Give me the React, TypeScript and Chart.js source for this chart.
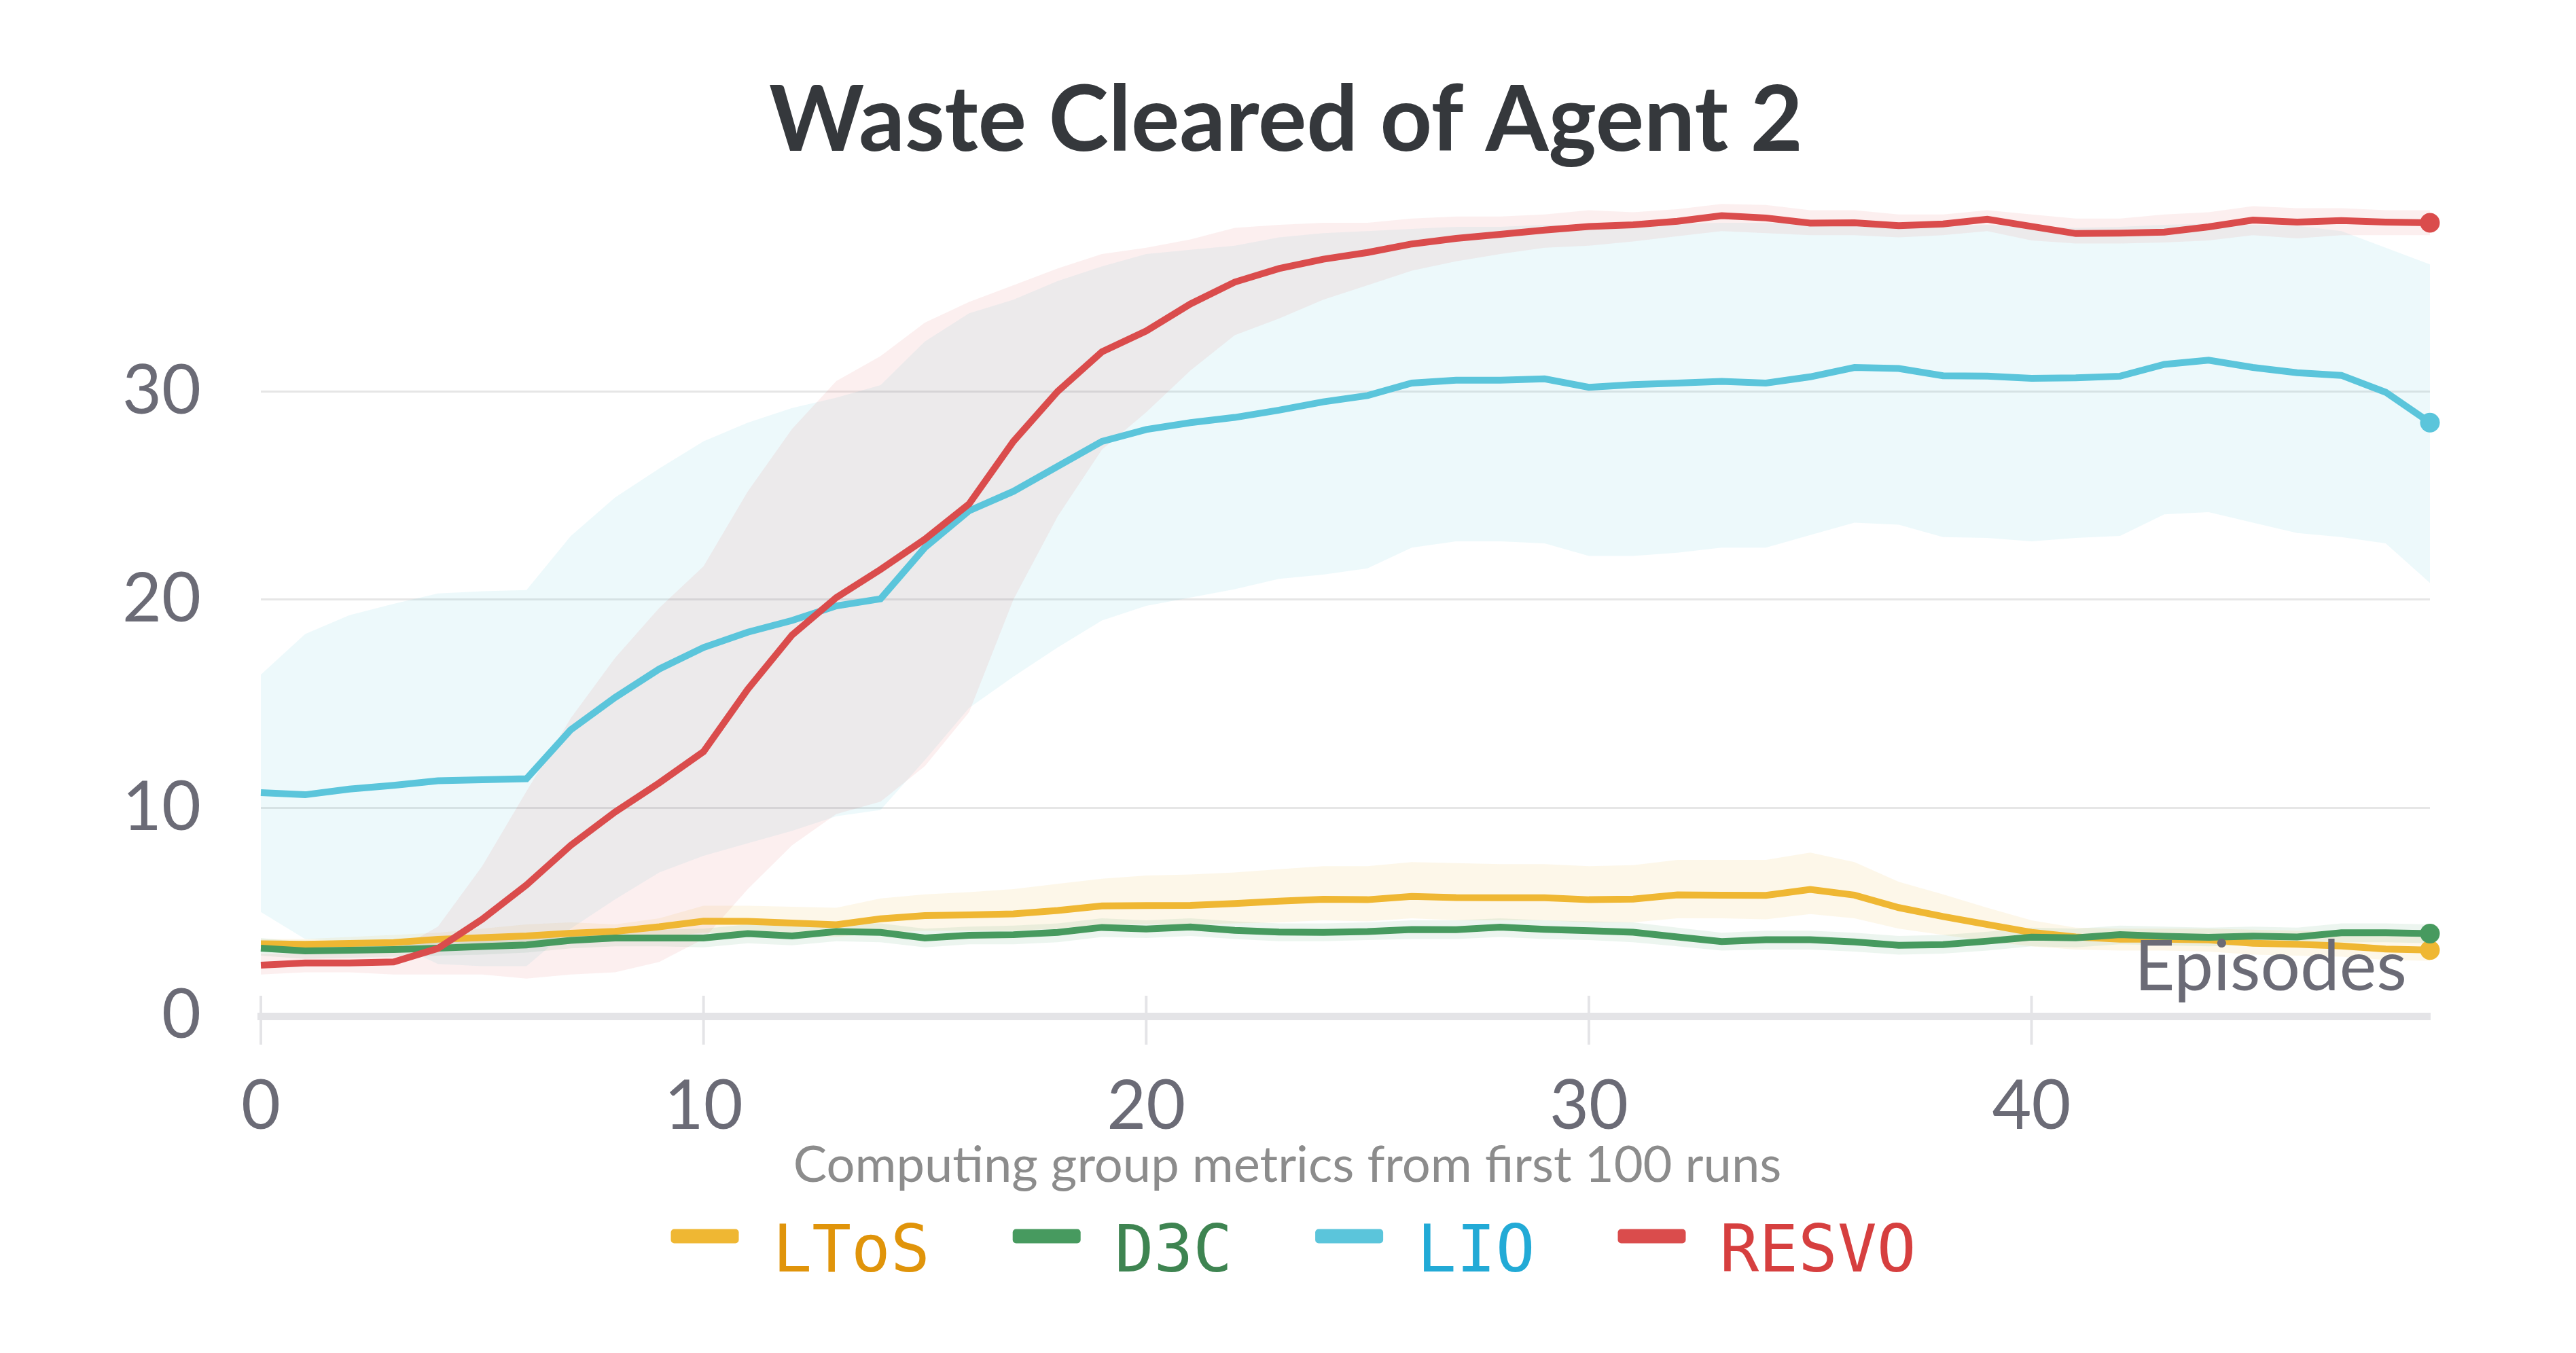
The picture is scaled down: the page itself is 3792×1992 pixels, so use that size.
import { useEffect, useRef } from "react";
import { Chart, registerables } from "chart.js";

Chart.register(...registerables);

// episodes on the x axis
const episodes = [
  0, 1, 2, 3, 4, 5, 6, 7, 8, 9, 10, 11, 12, 13, 14, 15, 16, 17, 18, 19, 20, 21, 22, 23, 24,
  25, 26, 27, 28, 29, 30, 31, 32, 33, 34, 35, 36, 37, 38, 39, 40, 41, 42, 43, 44, 45, 46, 47, 48, 49,
];
const xTicks = [0, 10, 20, 30, 40];
const yTicks = [0, 10, 20, 30];

// LToS
const ltosMean = [
  3.47, 3.45, 3.49, 3.53, 3.69, 3.77, 3.85, 3.98, 4.07, 4.29,
  4.56, 4.55, 4.47, 4.39, 4.67, 4.83, 4.86, 4.91, 5.07, 5.29,
  5.31, 5.32, 5.41, 5.52, 5.61, 5.59, 5.75, 5.69, 5.68, 5.68,
  5.59, 5.62, 5.82, 5.81, 5.8, 6.08, 5.81, 5.21, 4.78, 4.4,
  4.02, 3.8, 3.69, 3.69, 3.66, 3.5, 3.45, 3.37, 3.22, 3.17,
];
const ltosUpper = [
  3.7, 3.7, 3.8, 3.9, 4.0, 4.2, 4.4, 4.5, 4.4, 4.7,
  5.3, 5.3, 5.25, 5.2, 5.65, 5.85, 5.95, 6.1, 6.35, 6.6,
  6.75, 6.8, 6.9, 7.05, 7.2, 7.2, 7.4, 7.35, 7.3, 7.3,
  7.2, 7.25, 7.5, 7.5, 7.5, 7.85, 7.4, 6.45, 5.85, 5.2,
  4.6, 4.25, 4.2, 4.2, 4.2, 4.15, 4.1, 4.05, 4.0, 4.0,
];
const ltosLower = [
  3.25, 3.2, 3.2, 3.2, 3.35, 3.4, 3.45, 3.55, 3.6, 3.8,
  4.0, 4.0, 3.9, 3.8, 4.0, 4.1, 4.1, 4.1, 4.2, 4.4,
  4.4, 4.4, 4.45, 4.5, 4.6, 4.55, 4.7, 4.6, 4.6, 4.6,
  4.5, 4.5, 4.7, 4.7, 4.65, 4.9, 4.7, 4.2, 3.9, 3.6,
  3.35, 3.2, 3.15, 3.15, 3.1, 2.95, 2.9, 2.85, 2.7, 2.65,
];

// D3C
const d3cMean = [
  3.26, 3.13, 3.16, 3.2, 3.26, 3.34, 3.42, 3.64, 3.75, 3.75,
  3.75, 3.96, 3.85, 4.06, 4.02, 3.75, 3.88, 3.91, 4.02, 4.26,
  4.18, 4.28, 4.12, 4.04, 4.02, 4.06, 4.16, 4.15, 4.27, 4.17,
  4.1, 4.03, 3.8, 3.58, 3.67, 3.67, 3.56, 3.4, 3.43, 3.6,
  3.79, 3.76, 3.91, 3.83, 3.78, 3.84, 3.8, 4.0, 4.0, 3.96,
];
const d3cUpper = [
  3.75, 3.55, 3.5, 3.55, 3.6, 3.7, 3.8, 4.0, 4.15, 4.15,
  4.2, 4.4, 4.3, 4.5, 4.45, 4.2, 4.3, 4.35, 4.45, 4.7,
  4.6, 4.7, 4.55, 4.45, 4.45, 4.5, 4.6, 4.6, 4.7, 4.6,
  4.55, 4.5, 4.25, 4.0, 4.1, 4.1, 4.0, 3.85, 3.9, 4.05,
  4.25, 4.2, 4.35, 4.3, 4.25, 4.3, 4.25, 4.45, 4.45, 4.4,
];
const d3cLower = [
  2.9, 2.75, 2.8, 2.85, 2.9, 2.95, 3.05, 3.25, 3.35, 3.35,
  3.3, 3.5, 3.4, 3.6, 3.55, 3.3, 3.45, 3.45, 3.55, 3.8,
  3.75, 3.85, 3.7, 3.6, 3.6, 3.65, 3.7, 3.7, 3.8, 3.7,
  3.65, 3.55, 3.35, 3.15, 3.2, 3.2, 3.1, 2.95, 3.0, 3.15,
  3.35, 3.3, 3.45, 3.4, 3.35, 3.4, 3.35, 3.55, 3.55, 3.5,
];

// LIO
const lioMean = [
  10.73, 10.63, 10.9, 11.08, 11.3, 11.35, 11.4, 13.75, 15.3, 16.67,
  17.7, 18.44, 19.0, 19.7, 20.04, 22.5, 24.27, 25.2, 26.4, 27.6,
  28.17, 28.5, 28.75, 29.1, 29.5, 29.8, 30.4, 30.54, 30.54, 30.6,
  30.2, 30.33, 30.4, 30.48, 30.4, 30.7, 31.15, 31.1, 30.75, 30.73,
  30.63, 30.65, 30.73, 31.3, 31.5, 31.15, 30.9, 30.77, 29.96, 28.5,
];
const lioUpper = [
  16.4, 18.35, 19.25, 19.8, 20.3, 20.4, 20.46, 23.05, 24.9, 26.3,
  27.6, 28.5, 29.2, 29.7, 30.3, 32.4, 33.75, 34.4, 35.3, 36.0,
  36.6, 36.8, 37.0, 37.4, 37.6, 37.7, 37.8, 37.9, 37.9, 38.0,
  38.0, 38.0, 38.05, 38.1, 38.1, 38.05, 38.0, 37.95, 37.95, 38.0,
  37.9, 37.85, 37.9, 38.0, 38.05, 38.0, 37.95, 37.7, 36.9, 36.1,
];
const lioLower = [
  5.0, 3.7, 3.6, 3.5, 2.5, 2.4, 2.4, 4.2, 5.6, 6.9,
  7.7, 8.3, 8.9, 9.6, 9.9, 12.3, 14.8, 16.3, 17.7, 19.0,
  19.7, 20.1, 20.5, 21.0, 21.2, 21.5, 22.5, 22.8, 22.8, 22.7,
  22.1, 22.1, 22.25, 22.5, 22.5, 23.1, 23.7, 23.6, 23.0, 22.96,
  22.8, 22.96, 23.06, 24.1, 24.2, 23.7, 23.2, 23.0, 22.7, 20.8,
];

// RESVO
const resvoMean = [
  2.45, 2.55, 2.55, 2.6, 3.25, 4.65, 6.3, 8.2, 9.8, 11.2,
  12.7, 15.7, 18.3, 20.1, 21.45, 22.9, 24.6, 27.6, 30.0, 31.9,
  32.9, 34.2, 35.25, 35.9, 36.35, 36.67, 37.08, 37.35, 37.54, 37.75,
  37.92, 38.0, 38.17, 38.44, 38.33, 38.08, 38.1, 37.96, 38.04, 38.27,
  37.92, 37.58, 37.6, 37.65, 37.9, 38.23, 38.13, 38.2, 38.13, 38.1,
];
const resvoUpper = [
  3.0, 3.0, 3.0, 3.1, 4.3, 7.2, 10.8, 14.3, 17.2, 19.6,
  21.6, 25.2, 28.2, 30.5, 31.7, 33.3, 34.3, 35.1, 35.9, 36.6,
  36.9, 37.3, 37.85, 38.0, 38.1, 38.1, 38.3, 38.4, 38.4, 38.5,
  38.7, 38.6, 38.75, 39.0, 38.95, 38.7, 38.7, 38.5, 38.5, 38.7,
  38.5, 38.3, 38.3, 38.5, 38.6, 38.9, 38.8, 38.8, 38.7, 38.7,
];
const resvoLower = [
  2.0, 2.1, 2.1, 2.0, 2.0, 2.0, 1.8, 2.0, 2.1, 2.6,
  3.7, 6.1, 8.2, 9.7, 10.3, 12.0, 14.6, 20.0, 24.0, 27.2,
  29.0, 31.0, 32.7, 33.5, 34.4, 35.1, 35.8, 36.25, 36.6, 36.9,
  37.0, 37.2, 37.45, 37.7, 37.6, 37.5, 37.5, 37.4, 37.5, 37.7,
  37.25, 37.1, 37.1, 37.15, 37.25, 37.5, 37.35, 37.5, 37.5, 37.5,
];

const W = 3776;
const H = 1976;
const SANS = "Lato, 'Noto Sans', sans-serif";
const MONO = "'DejaVu Sans Mono', monospace";
const TICK_COLOR = "#6b6b76";

const ltos = { name: "LToS", line: "#efb733", text: "#e0940a", band: "rgba(239,183,51,0.11)", mean: ltosMean, upper: ltosUpper, lower: ltosLower };
const d3c = { name: "D3C", line: "#479a5f", text: "#3e8451", band: "rgba(71,154,95,0.1)", mean: d3cMean, upper: d3cUpper, lower: d3cLower };
const lio = { name: "LIO", line: "#5bc5db", text: "#22aad6", band: "rgba(91,197,219,0.11)", mean: lioMean, upper: lioUpper, lower: lioLower };
const resvo = { name: "RESVO", line: "#da4c4c", text: "#d63f3f", band: "rgba(218,76,76,0.09)", mean: resvoMean, upper: resvoUpper, lower: resvoLower };

const legendOrder = [ltos, d3c, lio, resvo];
// first one is drawn on top
const drawOrder = [resvo, lio, d3c, ltos];

const pts = (arr: number[]) => arr.map((y, i) => ({ x: episodes[i], y }));

const fitFont = (ctx, text, weight, family, target) => {
  ctx.font = `${weight} 100px ${family}`;
  const w = ctx.measureText(text).width;
  return (100 * target) / w;
};

const decor = {
  id: "decor",
  afterDraw(chart) {
    const { ctx, chartArea, scales } = chart;
    const x = scales.x;
    ctx.save();

    // tick marks crossing the axis line
    ctx.strokeStyle = "#e4e4e7";
    ctx.lineWidth = 4;
    xTicks.forEach((v) => {
      const px = x.getPixelForValue(v);
      ctx.beginPath();
      ctx.moveTo(px, chartArea.bottom - 30);
      ctx.lineTo(px, chartArea.bottom + 42);
      ctx.stroke();
    });

    // title
    const title = "Waste Cleared of Agent 2";
    let size = fitFont(ctx, title, "bold", SANS, 1522);
    ctx.font = `bold ${size}px ${SANS}`;
    ctx.fillStyle = "#35383c";
    ctx.textAlign = "center";
    ctx.textBaseline = "alphabetic";
    ctx.fillText(title, 1885, 214);

    // axis title inside the plot
    const ep = "Episodes";
    size = fitFont(ctx, ep, "normal", SANS, 401);
    ctx.font = `normal ${size}px ${SANS}`;
    ctx.fillStyle = TICK_COLOR;
    ctx.textAlign = "right";
    ctx.fillText(ep, chartArea.right - 34, chartArea.bottom - 38);

    // subtitle
    const sub = "Computing group metrics from first 100 runs";
    size = fitFont(ctx, sub, "normal", SANS, 1455);
    ctx.font = `normal ${size}px ${SANS}`;
    ctx.fillStyle = "#8c8c8c";
    ctx.textAlign = "center";
    ctx.fillText(sub, 1887, 1732);

    // legend
    ctx.font = `96px ${MONO}`;
    ctx.textAlign = "left";
    const boxW = 100;
    const boxH = 21;
    const gap = 50;
    const itemGap = 122;
    const widths = legendOrder.map((s) => ctx.measureText(s.name).width);
    const total = widths.reduce((a, w) => a + boxW + gap + w, 0) + itemGap * (legendOrder.length - 1);
    let lx = 1896 - total / 2;
    legendOrder.forEach((s, i) => {
      ctx.fillStyle = s.line;
      ctx.beginPath();
      ctx.roundRect(lx, 1812 - boxH / 2, boxW, boxH, 5);
      ctx.fill();
      ctx.fillStyle = s.text;
      ctx.fillText(s.name, lx + boxW + gap, 1864);
      lx += boxW + gap + widths[i] + itemGap;
    });

    ctx.restore();
  },
};

const lastIndex = episodes.length - 1;

const App = () => {
  const canvasRef = useRef(null);
  const chartRef = useRef(null);

  useEffect(() => {
    if (chartRef.current) {
      chartRef.current.destroy();
    }

    const lineSets = drawOrder.map((s, k) => ({
      label: s.name,
      data: pts(s.mean),
      borderColor: s.line,
      backgroundColor: s.line,
      borderWidth: 10,
      fill: false,
      tension: 0,
      clip: false,
      pointRadius: (c) => (c.dataIndex === lastIndex ? 14.5 : 0),
      pointBorderWidth: 0,
      pointBackgroundColor: s.line,
      order: k,
    }));

    const bandSets = [];
    drawOrder.forEach((s, k) => {
      bandSets.push({
        label: s.name + " max",
        data: pts(s.upper),
        borderWidth: 0,
        borderColor: "rgba(0,0,0,0)",
        backgroundColor: s.band,
        pointRadius: 0,
        fill: "+1",
        order: 10 + k,
      });
      bandSets.push({
        label: s.name + " min",
        data: pts(s.lower),
        borderWidth: 0,
        borderColor: "rgba(0,0,0,0)",
        backgroundColor: "rgba(0,0,0,0)",
        pointRadius: 0,
        fill: false,
        order: 10 + k,
      });
    });

    const ctx = canvasRef.current.getContext("2d");
    chartRef.current = new Chart(ctx, {
      type: "line",
      data: { datasets: [...lineSets, ...bandSets] },
      options: {
        animation: false,
        responsive: true,
        maintainAspectRatio: false,
        devicePixelRatio: 1,
        events: [],
        layout: { padding: { top: 277, left: 0, right: 207, bottom: 238 } },
        plugins: {
          legend: { display: false },
          title: { display: false },
          tooltip: { enabled: false },
        },
        scales: {
          x: {
            type: "linear",
            min: episodes[0],
            max: episodes[lastIndex],
            grid: { display: false, drawTicks: false },
            border: { display: true, color: "#e4e4e7", width: 11 },
            ticks: {
              stepSize: 10,
              includeBounds: false,
              padding: 74,
              color: TICK_COLOR,
              font: { family: SANS, size: 100 },
              maxRotation: 0,
              callback: (v) => (xTicks.includes(v) ? String(v) : ""),
            },
            afterFit: (s) => {
              s.height = 250;
            },
          },
          y: {
            min: 0,
            max: 39.5,
            grid: { color: "#e6e6e6", lineWidth: 3, drawTicks: false },
            border: { display: false },
            ticks: {
              stepSize: 10,
              includeBounds: false,
              padding: 88,
              color: TICK_COLOR,
              font: { family: SANS, size: 100 },
              callback: (v) => (yTicks.includes(v) ? String(v) : ""),
            },
            afterFit: (s) => {
              s.width = 376;
            },
          },
        },
      },
      plugins: [decor],
    });

    return () => {
      if (chartRef.current) {
        chartRef.current.destroy();
        chartRef.current = null;
      }
    };
  }, []);

  return (
    <div style={{ width: W, height: H, position: "relative" }}>
      <canvas ref={canvasRef} />
    </div>
  );
};

export default App;
